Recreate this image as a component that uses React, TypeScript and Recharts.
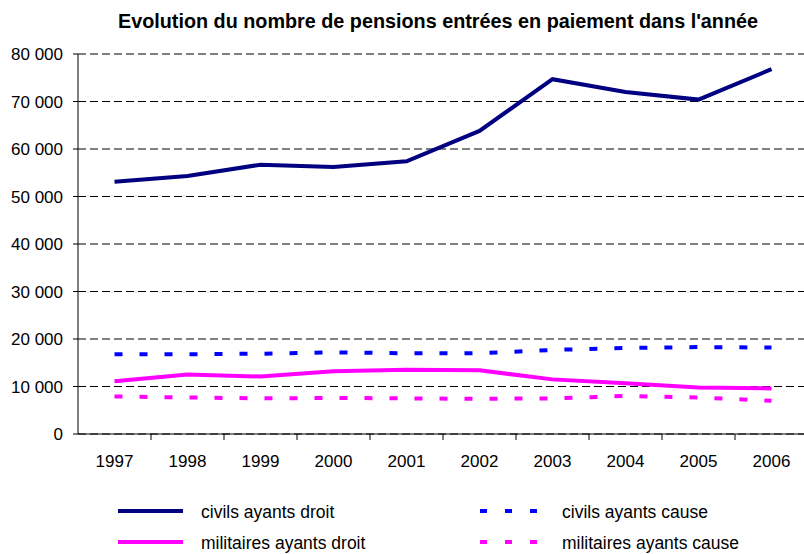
import { LineChart, Line, XAxis, YAxis, CartesianGrid } from "recharts";

const years = ["1997", "1998", "1999", "2000", "2001", "2002", "2003", "2004", "2005", "2006"];
const civilsDroit = [53100, 54300, 56700, 56200, 57400, 63800, 74700, 72000, 70400, 76800];
const civilsCause = [16800, 16800, 16900, 17200, 17000, 17000, 17700, 18100, 18300, 18200];
const militairesDroit = [11100, 12500, 12100, 13200, 13500, 13400, 11500, 10700, 9800, 9600];
const militairesCause = [7900, 7700, 7500, 7600, 7500, 7400, 7500, 8000, 7700, 7000];
const yTicks = [0, 10000, 20000, 30000, 40000, 50000, 60000, 70000, 80000];

const data = years.map((y, i) => ({
  year: y,
  civilsDroit: civilsDroit[i],
  civilsCause: civilsCause[i],
  militairesDroit: militairesDroit[i],
  militairesCause: militairesCause[i],
}));

const series = [
  { key: "civilsDroit", name: "civils ayants droit", color: "#000080", dash: undefined },
  { key: "civilsCause", name: "civils ayants cause", color: "#0000FF", dash: "8 17" },
  { key: "militairesDroit", name: "militaires ayants droit", color: "#FF00FF", dash: undefined },
  { key: "militairesCause", name: "militaires ayants cause", color: "#FF00FF", dash: "8 17" },
];

const W = 812;
const H = 554;
const LEFT = 78;
const RIGHT = 4;
const half = (W - LEFT - RIGHT) / years.length / 2;
const font = "'Liberation Sans', Arial, sans-serif";

const fmt = (v: number) => v.toLocaleString("fr-FR").replace(/\s/g, " ");

function XTick(props: any) {
  const { x, y, payload } = props;
  return (
    <g>
      <line x1={x + half} x2={x + half} y1={y - 8} y2={y - 2} stroke="#000" />
      <text x={x} y={y + 25} textAnchor="middle" fill="#000" fontSize={17} fontFamily={font}>
        {payload.value}
      </text>
    </g>
  );
}

// legend drawn as plain html under the plot, two columns like the original
function LegendBox() {
  const item = (s: typeof series[number], left: number, top: number, sx: number) => (
    <div key={s.key} style={{ position: "absolute", left, top, height: 20 }}>
      <svg width={80} height={20} style={{ position: "absolute", left: 0, top: 0 }}>
        <line
          x1={0}
          x2={s.dash ? 57 : 65}
          y1={10}
          y2={10}
          stroke={s.color}
          strokeWidth={4}
          strokeDasharray={s.dash ? "7 18" : undefined}
        />
      </svg>
      <span style={{ position: "absolute", left: sx, top: 1, whiteSpace: "nowrap", fontSize: 17.5, fontFamily: font, color: "#000", lineHeight: "20px" }}>
        {s.name}
      </span>
    </div>
  );
  return (
    <div style={{ position: "absolute", left: 0, top: 501, width: W, height: 53 }}>
      {item(series[0], 118, 0, 83)}
      {item(series[1], 480, 0, 82)}
      {item(series[2], 118, 31, 83)}
      {item(series[3], 480, 31, 82)}
    </div>
  );
}

export default function App() {
  return (
    <div style={{ position: "fixed", left: 0, top: 0, width: 804, height: H, overflow: "hidden", background: "#fff" }}>
      <div
        style={{
          position: "absolute",
          left: 0,
          width: 876,
          top: 9,
          textAlign: "center",
          fontFamily: font,
          fontWeight: "bold",
          fontSize: 19.8,
          lineHeight: "24px",
          color: "#000",
          zIndex: 2,
        }}
      >
        Evolution du nombre de pensions entrées en paiement dans l'année
      </div>
      <LineChart width={W} height={H} data={data} margin={{ top: 54, right: RIGHT, bottom: 80, left: 0 }}>
        <CartesianGrid vertical={false} stroke="#000" strokeDasharray="8 4" />
        <XAxis
          dataKey="year"
          axisLine={{ stroke: "#000" }}
          tickLine={false}
          tick={<XTick />}
          interval={0}
          height={40}
          padding={{ left: half, right: half }}
        />
        <YAxis
          width={LEFT}
          domain={[0, 80000]}
          ticks={yTicks}
          tickFormatter={fmt}
          axisLine={{ stroke: "#000" }}
          tickLine={{ stroke: "#000" }}
          tickSize={5}
          tickMargin={10}
          tick={{ fill: "#000", fontSize: 17, fontFamily: font }}
        />
        {series.map((s) => (
          <Line
            key={s.key}
            dataKey={s.key}
            name={s.name}
            stroke={s.color}
            strokeWidth={4}
            strokeDasharray={s.dash}
            dot={false}
            activeDot={false}
            type="linear"
            isAnimationActive={false}
          />
        ))}
      </LineChart>
      <LegendBox />
    </div>
  );
}
